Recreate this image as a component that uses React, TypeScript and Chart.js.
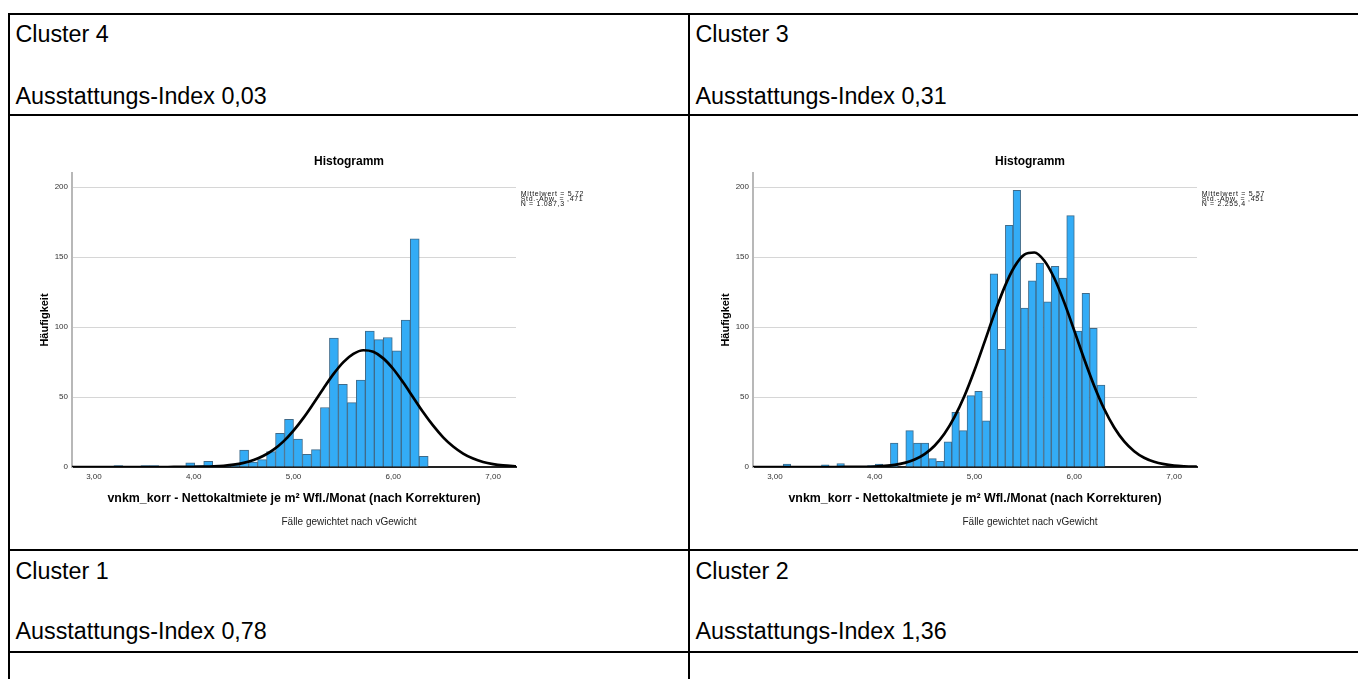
import React, { useEffect, useRef } from "react";
import { Chart, registerables } from "chart.js";
Chart.register(...registerables);

const FONT = "'Liberation Sans', Arial, Helvetica, sans-serif";

// ---- data ----
const xTickValues = [3, 4, 5, 6, 7];
const yTickValues = [0, 50, 100, 150, 200];

const cluster4BinWidth = 0.09;
const cluster4BinStarts = [
  3.2, 3.29, 3.38, 3.47, 3.56, 3.65, 3.74, 3.83, 3.92, 4.01, 4.1, 4.19, 4.28, 4.37, 4.46, 4.55, 4.64, 4.73,
  4.82, 4.91, 5.0, 5.09, 5.18, 5.27, 5.36, 5.45, 5.54, 5.63, 5.72, 5.81, 5.9, 5.99, 6.08, 6.17, 6.26,
];
const cluster4Counts = [
  1, 0, 0, 1, 1, 0, 0, 0, 3, 1, 4, 0, 1, 1.5, 12, 3.6, 5.3, 11,
  24, 34, 20, 9, 12.4, 42.5, 92, 59, 46, 62, 97, 91, 92.5, 83, 105, 163, 7.6,
];

const cluster3BinWidth = 0.0768;
const cluster3BinStarts = [
  3.082, 3.159, 3.236, 3.312, 3.389, 3.466, 3.543, 3.62, 3.696, 3.773, 3.85, 3.927, 4.004, 4.08,
  4.157, 4.234, 4.311, 4.388, 4.464, 4.541, 4.618, 4.695, 4.772, 4.848, 4.925, 5.002, 5.079, 5.156,
  5.232, 5.309, 5.386, 5.463, 5.54, 5.616, 5.693, 5.77, 5.847, 5.924, 6.0, 6.077, 6.154, 6.231,
];
const cluster3Counts = [
  2, 0, 0, 0, 0, 1.5, 0, 2.5, 0, 0, 0, 1, 2, 0,
  17, 0, 26, 17, 17, 6, 4, 18, 39, 26, 51, 54, 33, 138,
  84, 172.6, 197.7, 113.5, 133, 145.6, 118, 143.4, 135, 179.5, 97, 124, 99, 58.5,
];

const curveX = [
  2.78, 3.0, 3.2, 3.4, 3.6, 3.7, 3.8, 3.9, 4.0, 4.1, 4.2, 4.3, 4.4, 4.5, 4.6, 4.7, 4.8, 4.9, 5.0, 5.1, 5.2,
  5.3, 5.4, 5.5, 5.6, 5.7, 5.8, 5.9, 6.0, 6.1, 6.2, 6.3, 6.4, 6.5, 6.6, 6.7, 6.8, 6.9, 7.0, 7.1, 7.2, 7.23,
];
const cluster4Curve = [
  0, 0, 0, 0, 0, 0.01, 0.02, 0.05, 0.1, 0.22, 0.46, 0.89, 1.64, 2.92, 4.94, 8.0, 12.4, 18.3, 26.0, 35.1, 45.4,
  56.1, 66.3, 74.9, 80.8, 83.4, 82.3, 77.6, 70.0, 60.3, 49.7, 39.1, 29.5, 21.2, 14.6, 9.6, 6.0, 3.6, 2.1, 1.14, 0.6, 0.5,
];
const cluster3Curve = [
  0, 0, 0, 0, 0.01, 0.02, 0.07, 0.16, 0.36, 0.76, 1.52, 2.91, 5.3, 9.2, 15.2, 23.9, 35.8, 50.9, 69.1, 89.2, 109.6,
  128.3, 143.0, 151.7, 153.2, 147.3, 134.8, 117.4, 97.4, 77.0, 57.9, 41.4, 28.2, 18.3, 11.3, 6.6, 3.7, 2.0, 1.0, 0.49, 0.22, 0.19,
];

const cluster4Stats = ["Mittelwert = 5,72", "Std.-Abw. = ,471", "N = 1.087,3"];
const cluster3Stats = ["Mittelwert = 5,57", "Std.-Abw. = ,451", "N = 2.255,4"];

const chartTitle = "Histogramm";
const yTitle = "Häufigkeit";
const xTitle = "vnkm_korr - Nettokaltmiete je m² Wfl./Monat (nach Korrekturen)";
const footnote = "Fälle gewichtet nach vGewicht";

const headers = [
  { left: 15.5, top: 23, text: "Cluster 4" },
  { left: 15.5, top: 85, text: "Ausstattungs-Index 0,03" },
  { left: 695.5, top: 23, text: "Cluster 3" },
  { left: 695.5, top: 85, text: "Ausstattungs-Index 0,31" },
  { left: 15.5, top: 560.3, text: "Cluster 1" },
  { left: 15.5, top: 619.5, text: "Ausstattungs-Index 0,78" },
  { left: 695.5, top: 560.3, text: "Cluster 2" },
  { left: 695.5, top: 619.5, text: "Ausstattungs-Index 1,36" },
];

const fmtTick = (v: number) => v.toFixed(2).replace(".", ",");

const CW = 680;
const CH = 433;

const statsPlugin = {
  id: "statsText",
  afterDraw(chart: any, _args: any, opts: any) {
    const { ctx, chartArea } = chart;
    ctx.save();
    ctx.fillStyle = "#111";
    ctx.textAlign = "left";
    ctx.textBaseline = "middle";
    ctx.font = `7px ${FONT}`;
    try {
      (ctx as any).letterSpacing = "0.7px";
    } catch (e) {}
    (opts.lines || []).forEach((l: string, i: number) => {
      ctx.fillText(l, chartArea.right + 4.7, 78.3 + i * 4.8);
    });
    try {
      (ctx as any).letterSpacing = "0px";
    } catch (e) {}
    ctx.restore();
  },
};

function makeConfig(starts: number[], width: number, counts: number[], curve: number[], stats: string[]): any {
  const bars = starts.map((s, i) => ({ x: s + width / 2, y: counts[i] }));
  const line = curveX.map((x, i) => ({ x, y: curve[i] }));
  return {
    type: "bar",
    data: {
      datasets: [
        {
          type: "line",
          data: line,
          borderColor: "#000",
          borderWidth: 2.7,
          pointRadius: 0,
          fill: false,
          cubicInterpolationMode: "monotone",
          order: 0,
        },
        {
          type: "bar",
          data: bars,
          backgroundColor: "#33acf6",
          borderColor: "#3f6b8a",
          borderWidth: 1,
          barPercentage: 1,
          categoryPercentage: 1,
          order: 1,
        },
      ],
    },
    options: {
      animation: false,
      responsive: false,
      maintainAspectRatio: false,
      layout: { padding: { left: 0, right: 0, top: 0, bottom: 0 } },
      plugins: {
        legend: { display: false },
        tooltip: { enabled: false },
        title: {
          display: true,
          text: chartTitle,
          color: "#000",
          font: { family: FONT, size: 12, weight: "bold" },
          padding: { top: 38.6, bottom: 4 },
        },
        subtitle: {
          display: true,
          position: "bottom",
          fullSize: true,
          text: footnote,
          color: "#222",
          font: { family: FONT, size: 10 },
          padding: { top: 0, bottom: 20.5 },
        },
        statsText: { lines: stats },
      },
      scales: {
        x: {
          type: "linear",
          min: 2.78,
          max: 7.23,
          offset: false,
          afterBuildTicks: (s: any) => {
            s.ticks = xTickValues.map((v) => ({ value: v }));
          },
          ticks: {
            callback: (v: number) => fmtTick(v),
            font: { family: FONT, size: 8 },
            color: "#333",
            padding: 5,
            maxRotation: 0,
            autoSkip: false,
          },
          grid: { display: false, drawTicks: false },
          border: { display: true, color: "#222", width: 2 },
          title: {
            display: true,
            text: xTitle,
            color: "#000",
            font: { family: FONT, size: 12.4, weight: "bold" },
            padding: { top: 0, bottom: 10.1 },
          },
          afterFit: (s: any) => {
            s.height = 49.5;
          },
        },
        y: {
          type: "linear",
          position: "left",
          min: 0,
          max: 210,
          afterBuildTicks: (s: any) => {
            s.ticks = yTickValues.map((v) => ({ value: v }));
          },
          ticks: {
            font: { family: FONT, size: 8 },
            color: "#333",
            padding: 4,
          },
          grid: { color: "#d6d6d6", lineWidth: 1, drawTicks: false },
          border: { display: true, color: "#b8b8b8", width: 2 },
          title: {
            display: true,
            text: yTitle,
            color: "#000",
            font: { family: FONT, size: 11, weight: "bold" },
            padding: { top: 29.4, bottom: 0 },
          },
          afterFit: (s: any) => {
            s.width = 63;
          },
        },
        yRight: {
          type: "linear",
          position: "right",
          display: true,
          grid: { display: false, drawTicks: false },
          border: { display: false },
          ticks: { display: false },
          afterFit: (s: any) => {
            s.width = 173;
          },
        },
      },
    },
    plugins: [statsPlugin],
  };
}

function Histogram(props: { left: number; starts: number[]; width: number; counts: number[]; curve: number[]; stats: string[] }) {
  const ref = useRef<HTMLCanvasElement>(null);
  useEffect(() => {
    const chart = new Chart(ref.current as HTMLCanvasElement, makeConfig(props.starts, props.width, props.counts, props.curve, props.stats));
    return () => chart.destroy();
  }, []);
  return (
    <canvas
      ref={ref}
      width={CW}
      height={CH}
      style={{ position: "absolute", left: props.left, top: 116, width: CW, height: CH }}
    />
  );
}

const lineStyle = (l: number, t: number, w: number, h: number): React.CSSProperties => ({
  position: "absolute",
  left: l,
  top: t,
  width: w,
  height: h,
  background: "#000",
});

export default function App() {
  return (
    <div
      style={{
        position: "absolute",
        left: 0,
        top: 0,
        width: 1358,
        height: 679,
        overflow: "hidden",
        background: "#fff",
        fontFamily: FONT,
      }}
    >
      <Histogram left={9} starts={cluster4BinStarts} width={cluster4BinWidth} counts={cluster4Counts} curve={cluster4Curve} stats={cluster4Stats} />
      <Histogram left={690} starts={cluster3BinStarts} width={cluster3BinWidth} counts={cluster3Counts} curve={cluster3Curve} stats={cluster3Stats} />
      {headers.map((h, i) => (
        <div
          key={i}
          style={{
            position: "absolute",
            left: h.left,
            top: h.top,
            fontSize: 23.3,
            lineHeight: "23.3px",
            whiteSpace: "nowrap",
            color: "#000",
          }}
        >
          {h.text}
        </div>
      ))}
      <div style={lineStyle(8, 13, 1400, 2)} />
      <div style={lineStyle(8, 114, 1400, 2)} />
      <div style={lineStyle(8, 549, 1400, 2)} />
      <div style={lineStyle(8, 651, 1400, 2)} />
      <div style={lineStyle(8, 13, 2, 700)} />
      <div style={lineStyle(688, 13, 2, 700)} />
    </div>
  );
}
